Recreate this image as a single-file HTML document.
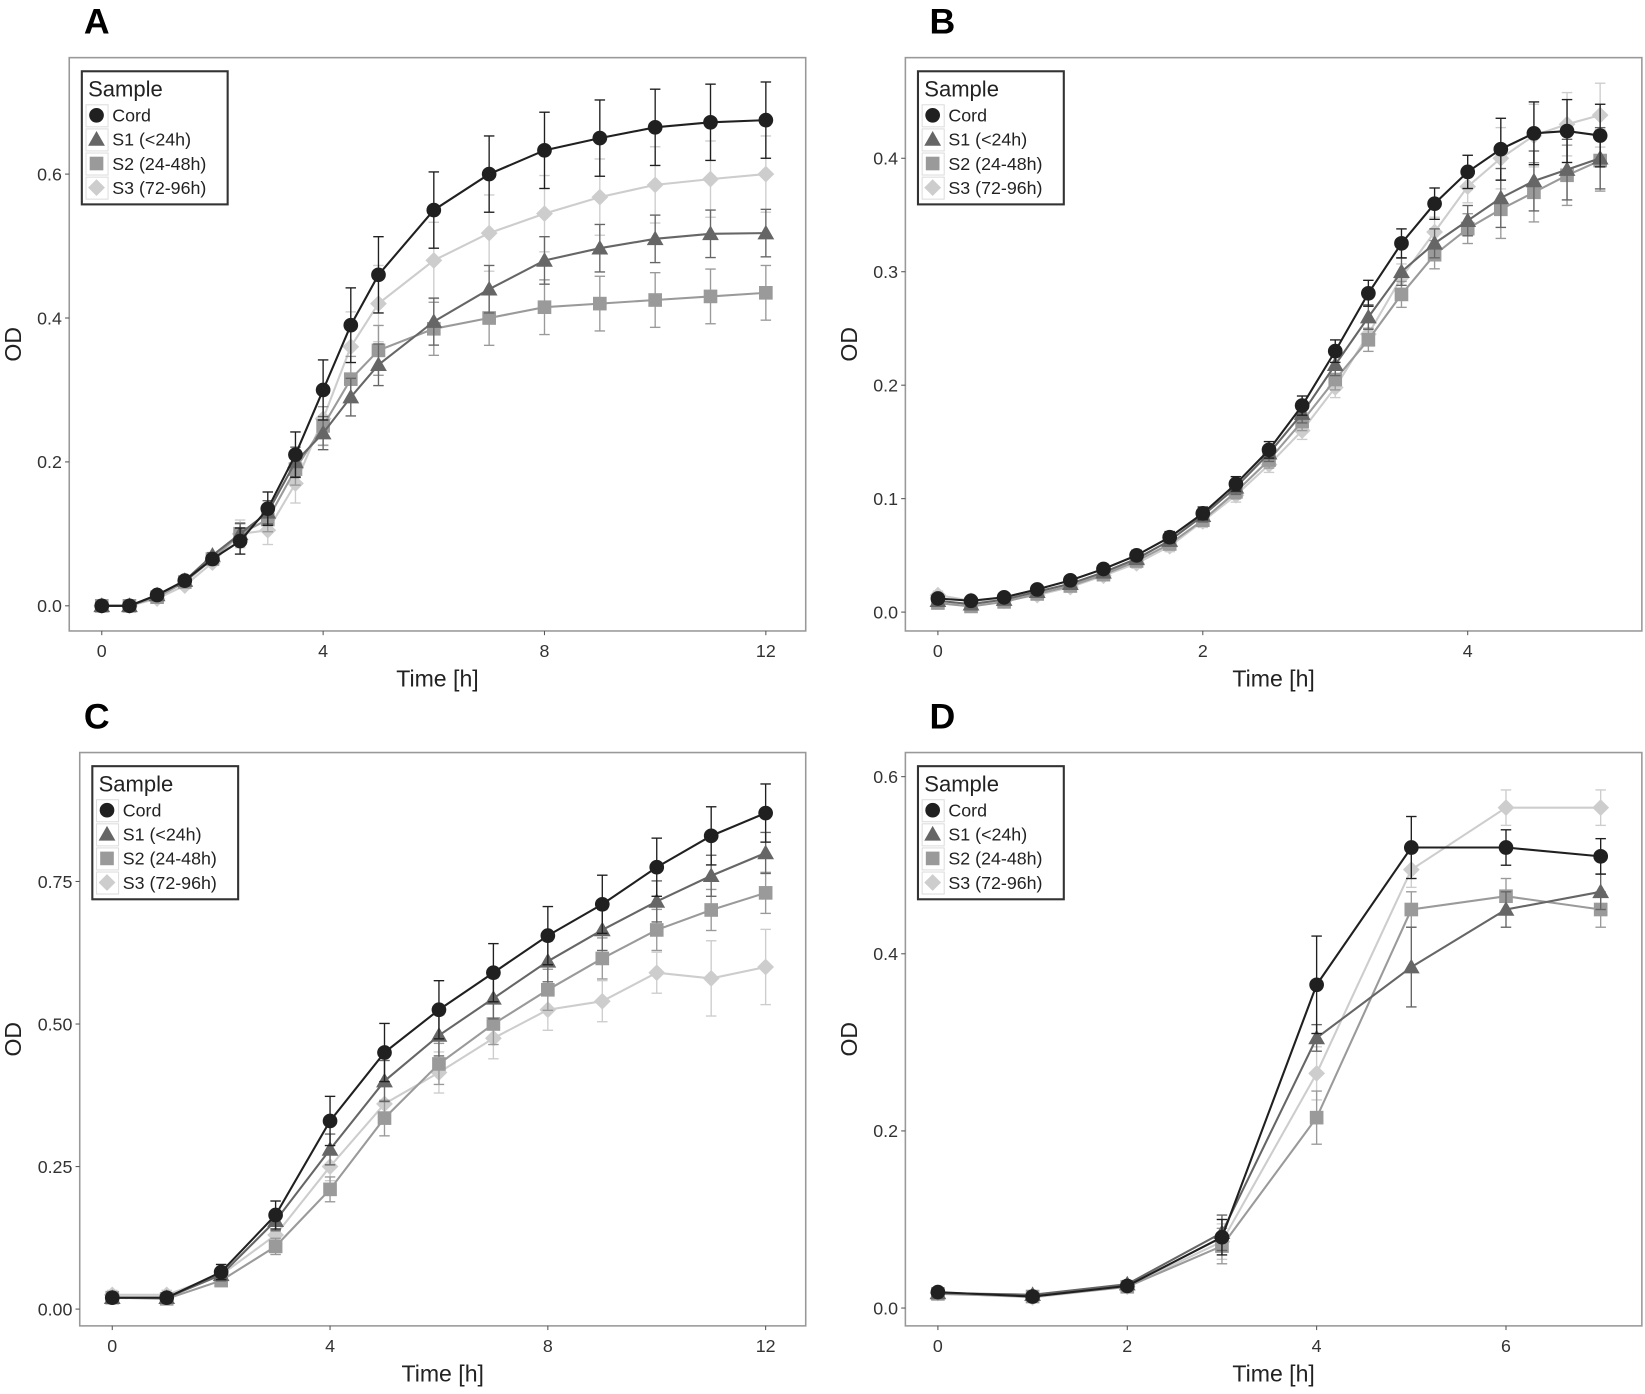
<!DOCTYPE html>
<html><head><meta charset="utf-8"><style>
html,body{margin:0;padding:0;background:#fff}
svg{display:block}
text{font-family:"Liberation Sans",sans-serif}
</style></head><body>
<svg id="s" width="1645" height="1394" viewBox="0 0 1568 1330" preserveAspectRatio="none" xmlns="http://www.w3.org/2000/svg"></svg>
<script>
const S=document.getElementById('s');let h='';
const col=['#202020','#666','#9a9a9a','#cdcdcd'];
function mk(i,x,y){const c=col[i];
 if(i==0)return `<circle cx="${x}" cy="${y}" r="7" fill="${c}"/>`;
 if(i==1)return `<polygon points="${x},${y-8} ${x+8},${y+6} ${x-8},${y+6}" fill="${c}"/>`;
 if(i==2)return `<rect x="${x-6.5}" y="${y-6.5}" width="13" height="13" fill="${c}"/>`;
 return `<polygon points="${x},${y-8} ${x+8},${y} ${x},${y+8} ${x-8},${y}" fill="${c}"/>`;}
function panel(p){
 const bx0=p.box[0],by0=p.box[1],bx1=p.box[2],by1=p.box[3];
 const X=t=>p.x0+t*p.xs, Y=v=>p.y0-v*p.ys;
 h+=`<text x="${p.lx}" y="${by0-23}" font-size="34" font-weight="bold" fill="#000">${p.lab}</text>`;
 h+=`<rect x="${bx0}" y="${by0}" width="${bx1-bx0}" height="${by1-by0}" fill="#fff" stroke="#999" stroke-width="1.5"/>`;
 p.yt.forEach(v=>{const y=Y(v[0]);h+=`<line x1="${bx0-4}" x2="${bx0}" y1="${y}" y2="${y}" stroke="#555"/><text x="${bx0-7}" y="${y+6}" font-size="17" text-anchor="end" fill="#333">${v[1]}</text>`});
 p.xt.forEach(v=>{const x=X(v);h+=`<line x1="${x}" x2="${x}" y1="${by1}" y2="${by1+4}" stroke="#555"/><text x="${x}" y="${by1+25}" font-size="17" text-anchor="middle" fill="#333">${v}</text>`});
 h+=`<text x="${(bx0+bx1)/2}" y="${by1+53}" font-size="22" text-anchor="middle" fill="#222">Time [h]</text>`;
 const ody=(by0+by1)/2;
 h+=`<text transform="translate(${p.odx},${ody}) rotate(-90)" font-size="22" text-anchor="middle" fill="#222">OD</text>`;
 [3,2,1,0].forEach(i=>{const d=p.d[i];const pts=d.map((v,k)=>X(p.t[k])+','+Y(v)).join(' ');
  d.forEach((v,k)=>{const e=p.e(i,v,k);const x=X(p.t[k]);h+=`<line x1="${x}" x2="${x}" y1="${Y(v-e)}" y2="${Y(v+e)}" stroke="${col[i]}" stroke-width="1.3"/><line x1="${x-5}" x2="${x+5}" y1="${Y(v-e)}" y2="${Y(v-e)}" stroke="${col[i]}" stroke-width="1.3"/><line x1="${x-5}" x2="${x+5}" y1="${Y(v+e)}" y2="${Y(v+e)}" stroke="${col[i]}" stroke-width="1.3"/>`});
  h+=`<polyline points="${pts}" fill="none" stroke="${col[i]}" stroke-width="2"/>`;
  d.forEach((v,k)=>{h+=mk(i,X(p.t[k]),Y(v));});});
 const lx=p.leg[0],ly=p.leg[1];
 h+=`<rect x="${lx}" y="${ly}" width="139" height="127" fill="#fff" stroke="#333" stroke-width="2"/>`;
 h+=`<text x="${lx+6}" y="${ly+24}" font-size="21" fill="#222">Sample</text>`;
 ['Cord','S1 (&lt;24h)','S2 (24-48h)','S3 (72-96h)'].forEach((n,i)=>{const y=ly+42+i*23;
  h+=`<rect x="${lx+4}" y="${y-10}" width="21" height="21" fill="#fff" stroke="#ddd"/>`+mk(i,lx+14,y)+`<text x="${lx+29}" y="${y+6}" font-size="17" fill="#222">${n}</text>`;});
}
const tA=[0,.5,1,1.5,2,2.5,3,3.5,4,4.5,5,6,7,8,9,10,11,12];
panel({lab:'A',lx:80,odx:20,box:[66,55,768,602],x0:97,xs:52.75,y0:578,ys:686.5,t:tA,xt:[0,4,8,12],
 yt:[[0,'0.0'],[.2,'0.2'],[.4,'0.4'],[.6,'0.6']],leg:[78,68],
 d:[[0,0,.015,.035,.065,.09,.135,.21,.30,.39,.46,.55,.60,.633,.65,.665,.672,.675],
 [0,0,.015,.035,.07,.10,.13,.20,.24,.29,.335,.395,.44,.48,.497,.51,.517,.518],
 [0,0,.012,.033,.065,.10,.12,.19,.25,.315,.355,.385,.40,.415,.42,.425,.43,.435],
 [0,0,.01,.028,.06,.10,.105,.17,.26,.36,.42,.48,.518,.545,.568,.585,.593,.60]],
 e:(i,v,k)=>k<5?0.004:[0.045,0.025,0.03,0.045][i]*Math.min(1,v/0.4)+0.008});
const tB=[];for(let k=0;k<=20;k++)tB.push(k*.25);
panel({lab:'B',lx:886,odx:817,box:[863,55,1565,602],x0:894,xs:126.25,y0:584,ys:1082.5,t:tB,xt:[0,2,4],
 yt:[[0,'0.0'],[.1,'0.1'],[.2,'0.2'],[.3,'0.3'],[.4,'0.4']],leg:[875,68],
 d:[[.012,.010,.013,.020,.028,.038,.050,.066,.087,.113,.143,.182,.230,.281,.325,.360,.388,.408,.422,.424,.420],
 [.010,.007,.011,.018,.025,.035,.047,.063,.085,.110,.140,.175,.218,.260,.300,.325,.345,.365,.380,.390,.400],
 [.008,.005,.009,.016,.023,.033,.045,.060,.081,.106,.134,.168,.205,.240,.280,.315,.338,.355,.370,.385,.398],
 [.015,.010,.010,.015,.022,.032,.043,.058,.080,.103,.130,.160,.198,.245,.295,.335,.375,.400,.420,.430,.438]],
 e:(i,v,k)=>0.003+v*0.03+(k>16?0.012:0)});
const tC=[0,1,2,3,4,5,6,7,8,9,10,11,12];
panel({lab:'C',lx:80,odx:20,box:[76,718,768,1265],x0:107,xs:51.9,y0:1249,ys:544,t:tC,xt:[0,4,8,12],
 yt:[[0,'0.00'],[.25,'0.25'],[.5,'0.50'],[.75,'0.75']],leg:[88,731],
 d:[[.02,.02,.065,.165,.33,.45,.525,.59,.655,.71,.775,.83,.87],
 [.02,.02,.06,.155,.28,.40,.48,.545,.61,.665,.715,.76,.80],
 [.02,.018,.05,.11,.21,.335,.43,.50,.56,.615,.665,.70,.73],
 [.025,.025,.06,.13,.25,.36,.415,.475,.525,.54,.59,.58,.60]],
 e:(i,v,k)=>[0.045,0.03,0.03,0.03][i]*Math.min(1,v/0.4)+0.006+(i==3&&k>10?0.03:0)});
panel({lab:'D',lx:886,odx:817,box:[863,718,1565,1265],x0:894,xs:90.25,y0:1248,ys:845,t:[0,1,2,3,4,5,6,7],xt:[0,2,4,6],
 yt:[[0,'0.0'],[.2,'0.2'],[.4,'0.4'],[.6,'0.6']],leg:[875,731],
 d:[[.018,.013,.025,.08,.365,.52,.52,.51],
 [.017,.015,.027,.085,.305,.385,.45,.47],
 [.016,.013,.024,.07,.215,.45,.465,.45],
 [.017,.012,.024,.075,.265,.495,.565,.565]],
 e:(i,v,k)=>k<3?0.004:(k==4?[0.055,0.015,0.03,0.03][i]:k==5?[0.035,0.045,0.02,0.02][i]:0.02)});
S.innerHTML=h;
</script>
</body></html>
